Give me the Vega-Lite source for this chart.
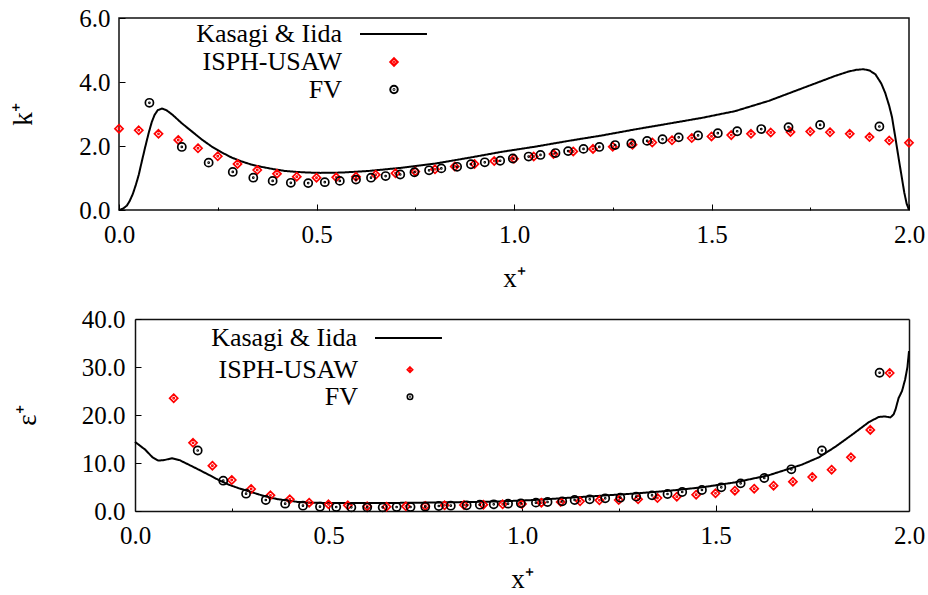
{
  "$schema": "https://vega.github.io/schema/vega-lite/v6.json",
  "padding": {"left": 8, "top": 5, "right": 5, "bottom": 0},
  "background": "white",
  "spacing": 15,
  "resolve": {"scale": {"color": "independent", "shape": "independent", "strokeDash": "independent"}, "legend": {"color": "independent", "shape": "independent", "strokeDash": "independent"}},
  "config": {
    "view": {"stroke": "#111", "strokeWidth": 1.5},
    "font": "Liberation Serif",
    "axis": {
      "labelFont": "Liberation Serif", "labelFontSize": 25, "labelColor": "black",
      "titleFont": "Liberation Serif", "titleFontSize": 27, "titleFontWeight": "normal", "titleColor": "black",
      "domain": false, "grid": false, "tickColor": "black", "tickWidth": 1,
      "domainColor": "#111", "domainWidth": 1.5,
      "labelFlush": false, "labelOverlap": false
    },
    "legend": {
      "labelFont": "Liberation Serif", "labelFontSize": 26, "labelColor": "black",
      "labelAlign": "right", "padding": 0, "orient": "none", "title": null
    }
  },
  "datasets": {
    "k": [
      {"series": "Kasagi & Iida", "x": 0, "y": 0}, {"series": "Kasagi & Iida", "x": 0.01, "y": 0.04}, {"series": "Kasagi & Iida", "x": 0.02, "y": 0.14},
      {"series": "Kasagi & Iida", "x": 0.027, "y": 0.28}, {"series": "Kasagi & Iida", "x": 0.035, "y": 0.5}, {"series": "Kasagi & Iida", "x": 0.043, "y": 0.8},
      {"series": "Kasagi & Iida", "x": 0.05, "y": 1.1}, {"series": "Kasagi & Iida", "x": 0.058, "y": 1.53}, {"series": "Kasagi & Iida", "x": 0.066, "y": 1.95},
      {"series": "Kasagi & Iida", "x": 0.075, "y": 2.4}, {"series": "Kasagi & Iida", "x": 0.083, "y": 2.75}, {"series": "Kasagi & Iida", "x": 0.09, "y": 2.97},
      {"series": "Kasagi & Iida", "x": 0.098, "y": 3.12}, {"series": "Kasagi & Iida", "x": 0.109, "y": 3.17}, {"series": "Kasagi & Iida", "x": 0.12, "y": 3.12},
      {"series": "Kasagi & Iida", "x": 0.135, "y": 2.98}, {"series": "Kasagi & Iida", "x": 0.16, "y": 2.7}, {"series": "Kasagi & Iida", "x": 0.185, "y": 2.45},
      {"series": "Kasagi & Iida", "x": 0.21, "y": 2.2}, {"series": "Kasagi & Iida", "x": 0.235, "y": 1.98}, {"series": "Kasagi & Iida", "x": 0.26, "y": 1.8},
      {"series": "Kasagi & Iida", "x": 0.285, "y": 1.64}, {"series": "Kasagi & Iida", "x": 0.31, "y": 1.52}, {"series": "Kasagi & Iida", "x": 0.335, "y": 1.42},
      {"series": "Kasagi & Iida", "x": 0.36, "y": 1.35}, {"series": "Kasagi & Iida", "x": 0.39, "y": 1.28}, {"series": "Kasagi & Iida", "x": 0.42, "y": 1.22},
      {"series": "Kasagi & Iida", "x": 0.45, "y": 1.19}, {"series": "Kasagi & Iida", "x": 0.48, "y": 1.17}, {"series": "Kasagi & Iida", "x": 0.51, "y": 1.16},
      {"series": "Kasagi & Iida", "x": 0.565, "y": 1.17}, {"series": "Kasagi & Iida", "x": 0.632, "y": 1.22}, {"series": "Kasagi & Iida", "x": 0.716, "y": 1.32},
      {"series": "Kasagi & Iida", "x": 0.8, "y": 1.45}, {"series": "Kasagi & Iida", "x": 0.885, "y": 1.63}, {"series": "Kasagi & Iida", "x": 0.97, "y": 1.82},
      {"series": "Kasagi & Iida", "x": 1.054, "y": 1.98}, {"series": "Kasagi & Iida", "x": 1.138, "y": 2.16}, {"series": "Kasagi & Iida", "x": 1.223, "y": 2.33},
      {"series": "Kasagi & Iida", "x": 1.307, "y": 2.52}, {"series": "Kasagi & Iida", "x": 1.392, "y": 2.7}, {"series": "Kasagi & Iida", "x": 1.476, "y": 2.88},
      {"series": "Kasagi & Iida", "x": 1.56, "y": 3.09}, {"series": "Kasagi & Iida", "x": 1.645, "y": 3.41}, {"series": "Kasagi & Iida", "x": 1.729, "y": 3.8},
      {"series": "Kasagi & Iida", "x": 1.813, "y": 4.19}, {"series": "Kasagi & Iida", "x": 1.845, "y": 4.32}, {"series": "Kasagi & Iida", "x": 1.866, "y": 4.38},
      {"series": "Kasagi & Iida", "x": 1.885, "y": 4.4}, {"series": "Kasagi & Iida", "x": 1.9, "y": 4.36}, {"series": "Kasagi & Iida", "x": 1.915, "y": 4.24},
      {"series": "Kasagi & Iida", "x": 1.93, "y": 3.95}, {"series": "Kasagi & Iida", "x": 1.94, "y": 3.65}, {"series": "Kasagi & Iida", "x": 1.95, "y": 3.25},
      {"series": "Kasagi & Iida", "x": 1.957, "y": 2.9}, {"series": "Kasagi & Iida", "x": 1.965, "y": 2.3}, {"series": "Kasagi & Iida", "x": 1.974, "y": 1.6},
      {"series": "Kasagi & Iida", "x": 1.982, "y": 1.0}, {"series": "Kasagi & Iida", "x": 1.988, "y": 0.55}, {"series": "Kasagi & Iida", "x": 1.994, "y": 0.2},
      {"series": "Kasagi & Iida", "x": 2.0, "y": 0},
      {"series": "ISPH-USAW", "x": 0, "y": 2.54}, {"series": "ISPH-USAW", "x": 0.05, "y": 2.49}, {"series": "ISPH-USAW", "x": 0.1, "y": 2.38},
      {"series": "ISPH-USAW", "x": 0.15, "y": 2.19}, {"series": "ISPH-USAW", "x": 0.2, "y": 1.93}, {"series": "ISPH-USAW", "x": 0.25, "y": 1.68},
      {"series": "ISPH-USAW", "x": 0.3, "y": 1.44}, {"series": "ISPH-USAW", "x": 0.35, "y": 1.25}, {"series": "ISPH-USAW", "x": 0.4, "y": 1.13},
      {"series": "ISPH-USAW", "x": 0.45, "y": 1.04}, {"series": "ISPH-USAW", "x": 0.5, "y": 1.01}, {"series": "ISPH-USAW", "x": 0.55, "y": 1.02},
      {"series": "ISPH-USAW", "x": 0.6, "y": 1.04}, {"series": "ISPH-USAW", "x": 0.65, "y": 1.1}, {"series": "ISPH-USAW", "x": 0.7, "y": 1.15},
      {"series": "ISPH-USAW", "x": 0.75, "y": 1.2}, {"series": "ISPH-USAW", "x": 0.8, "y": 1.27}, {"series": "ISPH-USAW", "x": 0.85, "y": 1.36},
      {"series": "ISPH-USAW", "x": 0.9, "y": 1.44}, {"series": "ISPH-USAW", "x": 0.95, "y": 1.53}, {"series": "ISPH-USAW", "x": 1.0, "y": 1.6},
      {"series": "ISPH-USAW", "x": 1.05, "y": 1.67}, {"series": "ISPH-USAW", "x": 1.1, "y": 1.75}, {"series": "ISPH-USAW", "x": 1.15, "y": 1.83},
      {"series": "ISPH-USAW", "x": 1.2, "y": 1.91}, {"series": "ISPH-USAW", "x": 1.25, "y": 1.98}, {"series": "ISPH-USAW", "x": 1.3, "y": 2.04},
      {"series": "ISPH-USAW", "x": 1.35, "y": 2.11}, {"series": "ISPH-USAW", "x": 1.4, "y": 2.18}, {"series": "ISPH-USAW", "x": 1.45, "y": 2.25},
      {"series": "ISPH-USAW", "x": 1.5, "y": 2.3}, {"series": "ISPH-USAW", "x": 1.55, "y": 2.34}, {"series": "ISPH-USAW", "x": 1.6, "y": 2.38},
      {"series": "ISPH-USAW", "x": 1.65, "y": 2.42}, {"series": "ISPH-USAW", "x": 1.7, "y": 2.44}, {"series": "ISPH-USAW", "x": 1.75, "y": 2.45},
      {"series": "ISPH-USAW", "x": 1.8, "y": 2.43}, {"series": "ISPH-USAW", "x": 1.85, "y": 2.38}, {"series": "ISPH-USAW", "x": 1.9, "y": 2.28},
      {"series": "ISPH-USAW", "x": 1.95, "y": 2.17}, {"series": "ISPH-USAW", "x": 2.0, "y": 2.1},
      {"series": "FV", "x": 0.077, "y": 3.35}, {"series": "FV", "x": 0.159, "y": 1.97}, {"series": "FV", "x": 0.227, "y": 1.48},
      {"series": "FV", "x": 0.288, "y": 1.19}, {"series": "FV", "x": 0.34, "y": 1.01}, {"series": "FV", "x": 0.389, "y": 0.91},
      {"series": "FV", "x": 0.435, "y": 0.85}, {"series": "FV", "x": 0.479, "y": 0.84}, {"series": "FV", "x": 0.521, "y": 0.87},
      {"series": "FV", "x": 0.559, "y": 0.91}, {"series": "FV", "x": 0.6, "y": 0.95}, {"series": "FV", "x": 0.638, "y": 1.01},
      {"series": "FV", "x": 0.675, "y": 1.06}, {"series": "FV", "x": 0.712, "y": 1.11}, {"series": "FV", "x": 0.748, "y": 1.18},
      {"series": "FV", "x": 0.785, "y": 1.24}, {"series": "FV", "x": 0.816, "y": 1.3}, {"series": "FV", "x": 0.856, "y": 1.35},
      {"series": "FV", "x": 0.891, "y": 1.43}, {"series": "FV", "x": 0.926, "y": 1.49}, {"series": "FV", "x": 0.965, "y": 1.54},
      {"series": "FV", "x": 0.997, "y": 1.61}, {"series": "FV", "x": 1.037, "y": 1.67}, {"series": "FV", "x": 1.067, "y": 1.72},
      {"series": "FV", "x": 1.105, "y": 1.78}, {"series": "FV", "x": 1.137, "y": 1.84}, {"series": "FV", "x": 1.176, "y": 1.91},
      {"series": "FV", "x": 1.216, "y": 1.97}, {"series": "FV", "x": 1.256, "y": 2.03}, {"series": "FV", "x": 1.297, "y": 2.08},
      {"series": "FV", "x": 1.337, "y": 2.16}, {"series": "FV", "x": 1.376, "y": 2.21}, {"series": "FV", "x": 1.417, "y": 2.27},
      {"series": "FV", "x": 1.466, "y": 2.33}, {"series": "FV", "x": 1.516, "y": 2.4}, {"series": "FV", "x": 1.565, "y": 2.46},
      {"series": "FV", "x": 1.626, "y": 2.53}, {"series": "FV", "x": 1.695, "y": 2.59}, {"series": "FV", "x": 1.775, "y": 2.66},
      {"series": "FV", "x": 1.925, "y": 2.61}
    ],
    "e": [
      {"series": "Kasagi & Iida", "x": 0, "y": 14.4}, {"series": "Kasagi & Iida", "x": 0.026, "y": 12.8}, {"series": "Kasagi & Iida", "x": 0.045, "y": 11.2},
      {"series": "Kasagi & Iida", "x": 0.06, "y": 10.5}, {"series": "Kasagi & Iida", "x": 0.075, "y": 10.6}, {"series": "Kasagi & Iida", "x": 0.096, "y": 11.0},
      {"series": "Kasagi & Iida", "x": 0.115, "y": 10.6}, {"series": "Kasagi & Iida", "x": 0.139, "y": 9.65}, {"series": "Kasagi & Iida", "x": 0.165, "y": 8.6},
      {"series": "Kasagi & Iida", "x": 0.19, "y": 7.57}, {"series": "Kasagi & Iida", "x": 0.215, "y": 6.5}, {"series": "Kasagi & Iida", "x": 0.242, "y": 5.49},
      {"series": "Kasagi & Iida", "x": 0.268, "y": 4.75}, {"series": "Kasagi & Iida", "x": 0.294, "y": 4.1}, {"series": "Kasagi & Iida", "x": 0.32, "y": 3.45},
      {"series": "Kasagi & Iida", "x": 0.345, "y": 2.85}, {"series": "Kasagi & Iida", "x": 0.37, "y": 2.45}, {"series": "Kasagi & Iida", "x": 0.397, "y": 2.15},
      {"series": "Kasagi & Iida", "x": 0.42, "y": 1.9}, {"series": "Kasagi & Iida", "x": 0.449, "y": 1.74}, {"series": "Kasagi & Iida", "x": 0.5, "y": 1.67},
      {"series": "Kasagi & Iida", "x": 0.6, "y": 1.65}, {"series": "Kasagi & Iida", "x": 0.7, "y": 1.7}, {"series": "Kasagi & Iida", "x": 0.8, "y": 1.8},
      {"series": "Kasagi & Iida", "x": 0.9, "y": 1.92}, {"series": "Kasagi & Iida", "x": 0.95, "y": 2.02}, {"series": "Kasagi & Iida", "x": 1.034, "y": 2.3},
      {"series": "Kasagi & Iida", "x": 1.12, "y": 2.75}, {"series": "Kasagi & Iida", "x": 1.207, "y": 3.2}, {"series": "Kasagi & Iida", "x": 1.293, "y": 3.65},
      {"series": "Kasagi & Iida", "x": 1.379, "y": 4.2}, {"series": "Kasagi & Iida", "x": 1.465, "y": 4.93}, {"series": "Kasagi & Iida", "x": 1.551, "y": 5.97},
      {"series": "Kasagi & Iida", "x": 1.637, "y": 7.43}, {"series": "Kasagi & Iida", "x": 1.723, "y": 9.65}, {"series": "Kasagi & Iida", "x": 1.767, "y": 11.18},
      {"series": "Kasagi & Iida", "x": 1.81, "y": 13.4}, {"series": "Kasagi & Iida", "x": 1.853, "y": 15.9}, {"series": "Kasagi & Iida", "x": 1.896, "y": 18.5},
      {"series": "Kasagi & Iida", "x": 1.922, "y": 19.6}, {"series": "Kasagi & Iida", "x": 1.937, "y": 19.7}, {"series": "Kasagi & Iida", "x": 1.952, "y": 19.5},
      {"series": "Kasagi & Iida", "x": 1.96, "y": 20.1}, {"series": "Kasagi & Iida", "x": 1.965, "y": 21.1}, {"series": "Kasagi & Iida", "x": 1.973, "y": 23.5},
      {"series": "Kasagi & Iida", "x": 1.982, "y": 25.0}, {"series": "Kasagi & Iida", "x": 1.99, "y": 27.4}, {"series": "Kasagi & Iida", "x": 1.996, "y": 30.0},
      {"series": "Kasagi & Iida", "x": 2.0, "y": 33.3},
      {"series": "ISPH-USAW", "x": 0.1, "y": 23.5}, {"series": "ISPH-USAW", "x": 0.15, "y": 14.2}, {"series": "ISPH-USAW", "x": 0.2, "y": 9.44},
      {"series": "ISPH-USAW", "x": 0.25, "y": 6.46}, {"series": "ISPH-USAW", "x": 0.3, "y": 4.58}, {"series": "ISPH-USAW", "x": 0.35, "y": 3.26},
      {"series": "ISPH-USAW", "x": 0.4, "y": 2.43}, {"series": "ISPH-USAW", "x": 0.45, "y": 1.74}, {"series": "ISPH-USAW", "x": 0.5, "y": 1.39},
      {"series": "ISPH-USAW", "x": 0.55, "y": 1.18}, {"series": "ISPH-USAW", "x": 0.6, "y": 0.97}, {"series": "ISPH-USAW", "x": 0.65, "y": 0.9},
      {"series": "ISPH-USAW", "x": 0.7, "y": 0.97}, {"series": "ISPH-USAW", "x": 0.75, "y": 1.04}, {"series": "ISPH-USAW", "x": 0.8, "y": 1.18},
      {"series": "ISPH-USAW", "x": 0.85, "y": 1.25}, {"series": "ISPH-USAW", "x": 0.9, "y": 1.32}, {"series": "ISPH-USAW", "x": 0.95, "y": 1.39},
      {"series": "ISPH-USAW", "x": 1.0, "y": 1.46}, {"series": "ISPH-USAW", "x": 1.05, "y": 1.74}, {"series": "ISPH-USAW", "x": 1.1, "y": 1.88},
      {"series": "ISPH-USAW", "x": 1.15, "y": 2.01}, {"series": "ISPH-USAW", "x": 1.2, "y": 2.22}, {"series": "ISPH-USAW", "x": 1.25, "y": 2.29},
      {"series": "ISPH-USAW", "x": 1.3, "y": 2.43}, {"series": "ISPH-USAW", "x": 1.35, "y": 2.71}, {"series": "ISPH-USAW", "x": 1.4, "y": 2.99},
      {"series": "ISPH-USAW", "x": 1.45, "y": 3.4}, {"series": "ISPH-USAW", "x": 1.5, "y": 3.68}, {"series": "ISPH-USAW", "x": 1.55, "y": 4.24},
      {"series": "ISPH-USAW", "x": 1.6, "y": 4.65}, {"series": "ISPH-USAW", "x": 1.65, "y": 5.28}, {"series": "ISPH-USAW", "x": 1.7, "y": 6.11},
      {"series": "ISPH-USAW", "x": 1.75, "y": 7.08}, {"series": "ISPH-USAW", "x": 1.8, "y": 8.61}, {"series": "ISPH-USAW", "x": 1.85, "y": 11.18},
      {"series": "ISPH-USAW", "x": 1.9, "y": 16.9}, {"series": "ISPH-USAW", "x": 1.95, "y": 28.75},
      {"series": "FV", "x": 0.162, "y": 12.6}, {"series": "FV", "x": 0.228, "y": 6.32}, {"series": "FV", "x": 0.287, "y": 3.61},
      {"series": "FV", "x": 0.338, "y": 2.29}, {"series": "FV", "x": 0.388, "y": 1.53}, {"series": "FV", "x": 0.434, "y": 1.11},
      {"series": "FV", "x": 0.478, "y": 0.9}, {"series": "FV", "x": 0.52, "y": 0.83}, {"series": "FV", "x": 0.559, "y": 0.76},
      {"series": "FV", "x": 0.6, "y": 0.76}, {"series": "FV", "x": 0.64, "y": 0.76}, {"series": "FV", "x": 0.676, "y": 0.83},
      {"series": "FV", "x": 0.712, "y": 0.83}, {"series": "FV", "x": 0.75, "y": 0.9}, {"series": "FV", "x": 0.785, "y": 1.04},
      {"series": "FV", "x": 0.816, "y": 1.11}, {"series": "FV", "x": 0.857, "y": 1.18}, {"series": "FV", "x": 0.891, "y": 1.32},
      {"series": "FV", "x": 0.927, "y": 1.39}, {"series": "FV", "x": 0.964, "y": 1.53}, {"series": "FV", "x": 0.997, "y": 1.6},
      {"series": "FV", "x": 1.036, "y": 1.74}, {"series": "FV", "x": 1.066, "y": 1.88}, {"series": "FV", "x": 1.104, "y": 2.01},
      {"series": "FV", "x": 1.136, "y": 2.29}, {"series": "FV", "x": 1.175, "y": 2.43}, {"series": "FV", "x": 1.215, "y": 2.64},
      {"series": "FV", "x": 1.254, "y": 2.78}, {"series": "FV", "x": 1.295, "y": 2.99}, {"series": "FV", "x": 1.336, "y": 3.26},
      {"series": "FV", "x": 1.376, "y": 3.54}, {"series": "FV", "x": 1.414, "y": 3.96}, {"series": "FV", "x": 1.465, "y": 4.38},
      {"series": "FV", "x": 1.515, "y": 4.93}, {"series": "FV", "x": 1.565, "y": 5.76}, {"series": "FV", "x": 1.626, "y": 6.88},
      {"series": "FV", "x": 1.696, "y": 8.68}, {"series": "FV", "x": 1.775, "y": 12.6}, {"series": "FV", "x": 1.924, "y": 28.8}
    ]
  },
  "vconcat": [
    {
      "width": 790,
      "height": 192,
      "data": {"name": "k"},
      "layer": [
        {
          "transform": [{"filter": "datum.series === 'Kasagi & Iida'"}],
          "mark": {"type": "line", "strokeWidth": 2, "color": "black"},
          "encoding": {
            "x": {"field": "x", "type": "quantitative", "scale": {"domain": [0, 2], "nice": false},
              "axis": {"title": "x⁺", "values": [0, 0.25, 0.5, 0.75, 1, 1.25, 1.5, 1.75, 2],
                "labelExpr": "(datum.value * 4) % 2 == 1 ? '' : format(datum.value, '.1f')",
                "tickSize": {"condition": {"test": "(datum.value * 4) % 2 == 1", "value": -3}, "value": -6},
                "labelPadding": 18, "titlePadding": 15}},
            "y": {"field": "y", "type": "quantitative", "scale": {"domain": [0, 6], "nice": false},
              "axis": {"title": "k⁺", "values": [0, 1, 2, 3, 4, 5, 6], "format": ".1f", "tickSize": -6,
                "labelPadding": 15, "minExtent": 50, "maxExtent": 50, "titlePadding": 32}},
            "strokeDash": {"field": "series", "type": "nominal",
              "scale": {"domain": ["Kasagi & Iida"], "range": [[1, 0]]},
              "legend": {"symbolType": "M-5.15,0L5.15,0", "symbolSize": 169, "symbolStrokeWidth": 2, "symbolStrokeColor": "black",
                "labelOffset": -64.5, "legendX": 261.5, "legendY": 3}}
          }
        },
        {
          "transform": [{"filter": "datum.series !== 'Kasagi & Iida'"}],
          "mark": {"type": "point", "filled": false, "strokeWidth": 1.7, "opacity": 1, "size": 66},
          "encoding": {
            "x": {"field": "x", "type": "quantitative"},
            "y": {"field": "y", "type": "quantitative"},
            "color": {"field": "series", "type": "nominal",
              "scale": {"domain": ["ISPH-USAW", "FV"], "range": ["#ff0000", "#000000"]},
              "legend": {"symbolSize": 56, "symbolStrokeWidth": 2, "labelOffset": -65,
                "rowPadding": 1.5, "legendX": 262, "legendY": 31}},
            "shape": {"field": "series", "type": "nominal",
              "scale": {"domain": ["ISPH-USAW", "FV"], "range": [
                "M0,-1L1,0L0,1L-1,0Z M-0.15,0A0.15,0.15 0 1,0 0.15,0A0.15,0.15 0 1,0 -0.15,0Z",
                "M-1,0A1,1 0 1,0 1,0A1,1 0 1,0 -1,0Z M-0.12,0A0.12,0.12 0 1,0 0.12,0A0.12,0.12 0 1,0 -0.12,0Z"]},
              "legend": {"symbolSize": 56, "symbolStrokeWidth": 2, "labelOffset": -65,
                "rowPadding": 1.5, "legendX": 262, "legendY": 31}}
          }
        }
      ]
    },
    {
      "width": 790,
      "height": 192,
      "view": {"stroke": null},
      "data": {"name": "e"},
      "layer": [
        {
          "transform": [{"filter": "datum.series === 'Kasagi & Iida'"}],
          "mark": {"type": "line", "strokeWidth": 2, "color": "black"},
          "encoding": {
            "x": {"field": "x", "type": "quantitative", "scale": {"domain": [0, 2], "nice": false, "range": [16, 790]},
              "axis": {"title": "x⁺", "orient": "bottom", "values": [0, 0.25, 0.5, 0.75, 1, 1.25, 1.5, 1.75, 2], "domain": true,
                "labelExpr": "(datum.value * 4) % 2 == 1 ? '' : format(datum.value, '.1f')",
                "tickSize": {"condition": {"test": "(datum.value * 4) % 2 == 1", "value": -3}, "value": -6},
                "labelPadding": 18, "titlePadding": 15}},
            "y": {"field": "y", "type": "quantitative", "scale": {"domain": [0, 40], "nice": false},
              "axis": {"title": "ε⁺", "orient": "left", "values": [0, 10, 20, 30, 40], "format": ".1f", "tickSize": -6, "domain": true,
                "offset": -16, "labelPadding": 16, "minExtent": 64, "maxExtent": 64, "titlePadding": 30}},
            "strokeDash": {"field": "series", "type": "nominal",
              "scale": {"domain": ["Kasagi & Iida"], "range": [[1, 0]]},
              "legend": {"symbolType": "M-5.15,0L5.15,0", "symbolSize": 169, "symbolStrokeWidth": 2, "symbolStrokeColor": "black",
                "labelOffset": -64.5, "legendX": 276.5, "legendY": 6}}
          }
        },
        {
          "transform": [{"filter": "datum.series !== 'Kasagi & Iida'"}],
          "mark": {"type": "point", "filled": false, "strokeWidth": 1.7, "opacity": 1, "size": 66},
          "encoding": {
            "x": {"field": "x", "type": "quantitative", "scale": {"domain": [0, 2], "nice": false, "range": [16, 790]},
              "axis": {"orient": "top", "labels": false, "ticks": false, "title": null, "domain": true}},
            "y": {"field": "y", "type": "quantitative", "scale": {"domain": [0, 40], "nice": false},
              "axis": {"orient": "right", "labels": false, "ticks": false, "title": null, "domain": true}},
            "color": {"field": "series", "type": "nominal",
              "scale": {"domain": ["ISPH-USAW", "FV"], "range": ["#ff0000", "#000000"]},
              "legend": {"symbolSize": 30, "symbolStrokeWidth": 1.6, "labelOffset": -65,
                "rowPadding": 1, "legendX": 278, "legendY": 37.7}},
            "shape": {"field": "series", "type": "nominal",
              "scale": {"domain": ["ISPH-USAW", "FV"], "range": [
                "M0,-1L1,0L0,1L-1,0Z M-0.15,0A0.15,0.15 0 1,0 0.15,0A0.15,0.15 0 1,0 -0.15,0Z",
                "M-1,0A1,1 0 1,0 1,0A1,1 0 1,0 -1,0Z M-0.12,0A0.12,0.12 0 1,0 0.12,0A0.12,0.12 0 1,0 -0.12,0Z"]},
              "legend": {"symbolSize": 30, "symbolStrokeWidth": 1.6, "labelOffset": -65,
                "rowPadding": 1, "legendX": 278, "legendY": 37.7}}
          }
        }
      ],
      "resolve": {"scale": {"x": "independent", "y": "independent"}}
    }
  ]
}
